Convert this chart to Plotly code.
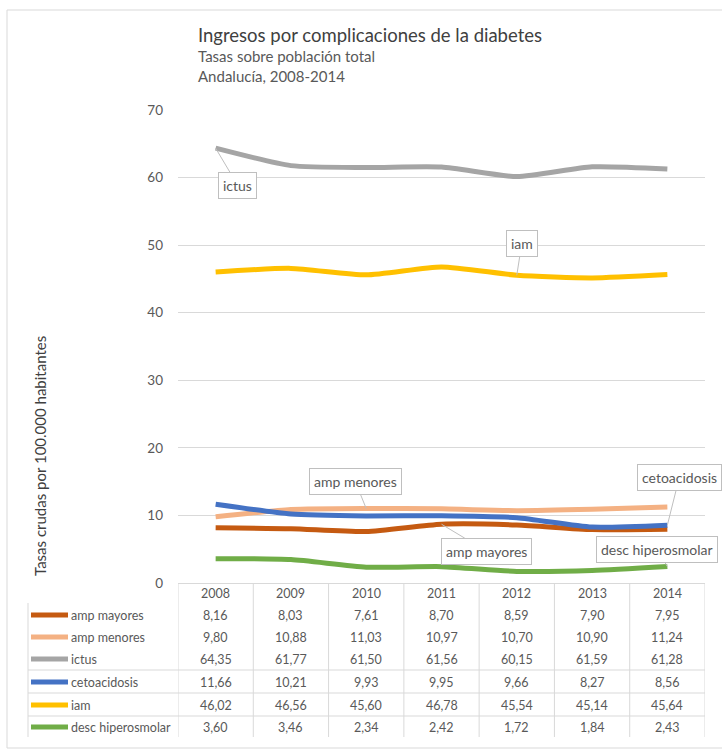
import plotly.graph_objects as go

# Tasas crudas por 100.000 habitantes, Andalucía
years = [2008, 2009, 2010, 2011, 2012, 2013, 2014]
amp_mayores = [8.16, 8.03, 7.61, 8.70, 8.59, 7.90, 7.95]
amp_menores = [9.80, 10.88, 11.03, 10.97, 10.70, 10.90, 11.24]
ictus = [64.35, 61.77, 61.50, 61.56, 60.15, 61.59, 61.28]
cetoacidosis = [11.66, 10.21, 9.93, 9.95, 9.66, 8.27, 8.56]
iam = [46.02, 46.56, 45.60, 46.78, 45.54, 45.14, 45.64]
desc_hiperosmolar = [3.60, 3.46, 2.34, 2.42, 1.72, 1.84, 2.43]

series_names = ["amp mayores", "amp menores", "ictus", "cetoacidosis", "iam", "desc hiperosmolar"]
series_values = [amp_mayores, amp_menores, ictus, cetoacidosis, iam, desc_hiperosmolar]
series_colors = ["#C55A11", "#F4B183", "#A5A5A5", "#4472C4", "#FFC000", "#70AD47"]

W, H = 722, 749
L, R, T, B = 178, 17, 110, 166
PW, PH = W - L - R, H - T - B
FONT = "Lato, 'Open Sans', sans-serif"
TXT = "#595959"
GRID = "#d9d9d9"


def px(x):
    return (x - L) / PW


def py(y):
    return (H - B - y) / PH


fig = go.Figure()
for name, vals, color in zip(series_names, series_values, series_colors):
    fig.add_trace(go.Scatter(
        x=years, y=vals, mode="lines", name=name,
        line=dict(color=color, width=5, shape="spline", smoothing=0.6),
    ))

shapes = []
annotations = []

# outer chart frame
shapes.append(dict(type="rect", xref="paper", yref="paper",
                   x0=px(7), x1=px(W + 5), y0=py(748), y1=py(10),
                   line=dict(color=GRID, width=1), layer="below"))

# titles
annotations += [
    dict(text="Ingresos por complicaciones de la diabetes", x=px(196), y=py(35),
         font=dict(size=18.5, color="#404040")),
    dict(text="Tasas sobre población total", x=px(196), y=py(56),
         font=dict(size=15, color=TXT)),
    dict(text="Andalucía, 2008-2014", x=px(196), y=py(76),
         font=dict(size=15, color=TXT)),
]
for a in annotations:
    a.update(xref="paper", yref="paper", xanchor="left", yanchor="middle", showarrow=False)

# y axis title
annotations.append(dict(text="Tasas crudas por 100.000 habitantes", xref="paper", yref="paper",
                        x=px(40), y=py(456), xanchor="center", yanchor="middle",
                        textangle=-90, showarrow=False,
                        font=dict(size=15, color="#404040")))

# data table below the plot
row_year_y = 593
row_ys = [615, 637, 659, 682, 705, 727]
table_bottom = 737
table_left = 28
TFONT = dict(size=12.5, color=TXT)

for yr in years:
    annotations.append(dict(text=str(yr), xref="x", yref="paper", x=yr, y=py(row_year_y),
                            yanchor="middle", showarrow=False, font=TFONT))

for name, vals, color, ry in zip(series_names, series_values, series_colors, row_ys):
    shapes.append(dict(type="line", xref="paper", yref="paper",
                       x0=px(31), x1=px(68), y0=py(ry), y1=py(ry),
                       line=dict(color=color, width=5)))
    annotations.append(dict(text=name, xref="paper", yref="paper", x=px(69), y=py(ry),
                            xanchor="left", yanchor="middle", showarrow=False, font=TFONT))
    for yr, v in zip(years, vals):
        annotations.append(dict(text=f"{v:.2f}".replace(".", ","), xref="x", yref="paper",
                                x=yr, y=py(ry), yanchor="middle", showarrow=False, font=TFONT))

# table grid lines
for k in range(len(years) + 1):
    xb = years[0] - 0.5 + k
    shapes.append(dict(type="line", xref="x", yref="paper", x0=xb, x1=xb,
                       y0=py(H - B), y1=py(table_bottom), line=dict(color=GRID, width=1)))
shapes.append(dict(type="line", xref="paper", yref="paper", x0=px(table_left), x1=px(table_left),
                   y0=py(603), y1=py(table_bottom), line=dict(color=GRID, width=1)))
for hy in [670, 693, 716]:
    shapes.append(dict(type="line", xref="paper", yref="paper", x0=px(table_left), x1=1,
                       y0=py(hy), y1=py(hy), line=dict(color=GRID, width=1)))

# callout labels
callouts = [
    ("ictus", 2008, ictus[0], 22, 37),
    ("iam", 2012, iam[4], 5, -32),
    ("amp menores", 2010, amp_menores[2], -11, -27),
    ("amp mayores", 2011, amp_mayores[3], 45, 27),
    ("cetoacidosis", 2014, cetoacidosis[6], 12, -48),
    ("desc hiperosmolar", 2014, desc_hiperosmolar[6], -10, -17),
]
for text, xv, yv, ax, ay in callouts:
    annotations.append(dict(text=text, x=xv, y=yv, xref="x", yref="y", ax=ax, ay=ay,
                            showarrow=True, arrowhead=0, arrowwidth=1, arrowcolor="#bfbfbf",
                            bgcolor="white", bordercolor="#bfbfbf", borderwidth=1, borderpad=4,
                            font=dict(size=14, color=TXT)))

fig.update_layout(
    width=W, height=H,
    margin=dict(l=L, r=R, t=T, b=B),
    paper_bgcolor="white", plot_bgcolor="white",
    font=dict(family=FONT, color=TXT),
    showlegend=False,
    xaxis=dict(range=[years[0] - 0.5, years[-1] + 0.5], showgrid=False, zeroline=False,
               showticklabels=False, ticks="", showline=True, linecolor=GRID, linewidth=1),
    yaxis=dict(range=[0, 70], dtick=10, showgrid=True, gridcolor=GRID, gridwidth=1,
               zeroline=False, showline=False, ticks="", ticklabelstandoff=14,
               tickfont=dict(size=13.5, color=TXT)),
    shapes=shapes,
    annotations=annotations,
)

fig.write_html("out.html")
